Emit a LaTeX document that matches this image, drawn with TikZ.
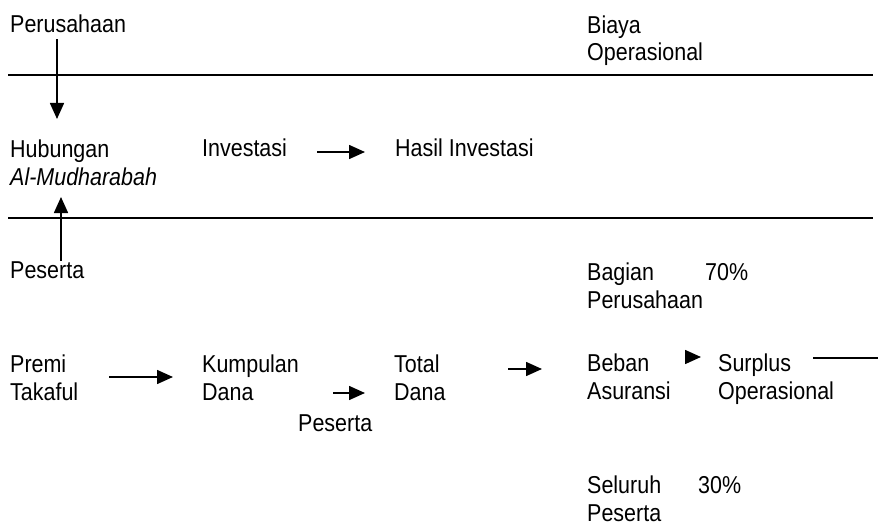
\documentclass[tikz,border=0pt]{standalone}
\usepackage{fontspec}
\setmainfont{Liberation Sans}[FakeStretch=0.88]
\usetikzlibrary{arrows.meta}

\tikzset{
  lbl/.style={anchor=base west, inner sep=0pt, align=left, font=\fontsize{24.4}{28}\selectfont},
  flow/.style={-{Triangle[length=16pt,width=14pt]}, line width=1.6pt},
  rule/.style={line width=1.6pt}
}

\begin{document}
\begin{tikzpicture}[x=1pt,y=-1pt]
    \useasboundingbox (0,0) rectangle (879,527);
    % top band (base anchor = last line)
    \node[lbl] (perusahaan) at (10,33) {Perusahaan};
    \node[lbl] (biaya) at (587,61) {Biaya\\Operasional};
    % middle band
    \node[lbl] (hubungan) at (10,185) {Hubungan\\\textit{Al-Mudharabah}};
    \node[lbl] (investasi) at (202,157) {Investasi};
    \node[lbl] (hasil) at (395,157) {Hasil Investasi};
    % bottom band
    \node[lbl] (peserta) at (10,278) {Peserta};
    \node[lbl] (bagian) at (587,308) {Bagian\\Perusahaan};
    \node[lbl] (p70) at (705,280) {70\%};
    \node[lbl] (premi) at (10,400) {Premi\\Takaful};
    \node[lbl] (kumpulan) at (202,400) {Kumpulan\\Dana};
    \node[lbl] (pesertadana) at (298,431) {Peserta};
    \node[lbl] (total) at (394,400) {Total\\Dana};
    \node[lbl] (beban) at (587,399) {Beban\\Asuransi};
    \node[lbl] (surplus) at (718,399) {Surplus\\Operasional};
    \node[lbl] (seluruh) at (587,521) {Seluruh\\Peserta};
    \node[lbl] (p30) at (698,493) {30\%};
    % separators
    \draw[rule] (8,75) -- (873,75);
    \draw[rule] (8,218) -- (873,218);
    % arrow ends
    \coordinate (hubtop) at (57,119);
    \coordinate (hubbot) at (61,197);
    \coordinate (invs) at (317,152);
    \coordinate (inve) at (365,152);
    \coordinate (prems) at (109,377);
    \coordinate (preme) at (173,377);
    \coordinate (kums) at (333,393);
    \coordinate (kume) at (365,393);
    \coordinate (tots) at (508,369);
    \coordinate (tote) at (542,369);
    \coordinate (bebs) at (685,357);
    \coordinate (bebe) at (701,357);
    \coordinate (surs) at (813,358);
    \coordinate (sure) at (878,358);
    % flows
    \draw[flow, shorten <=6pt] (perusahaan.south -| hubtop) -- (hubtop);
    \draw[flow] (peserta.north -| hubbot) -- (hubbot);
    \draw[flow] (invs) -- (inve);
    \draw[flow] (prems) -- (preme);
    \draw[flow] (kums) -- (kume);
    \draw[flow] (tots) -- (tote);
    \draw[flow] (bebs) -- (bebe);
    \draw[rule] (surs) -- (sure);
\end{tikzpicture}
\end{document}
